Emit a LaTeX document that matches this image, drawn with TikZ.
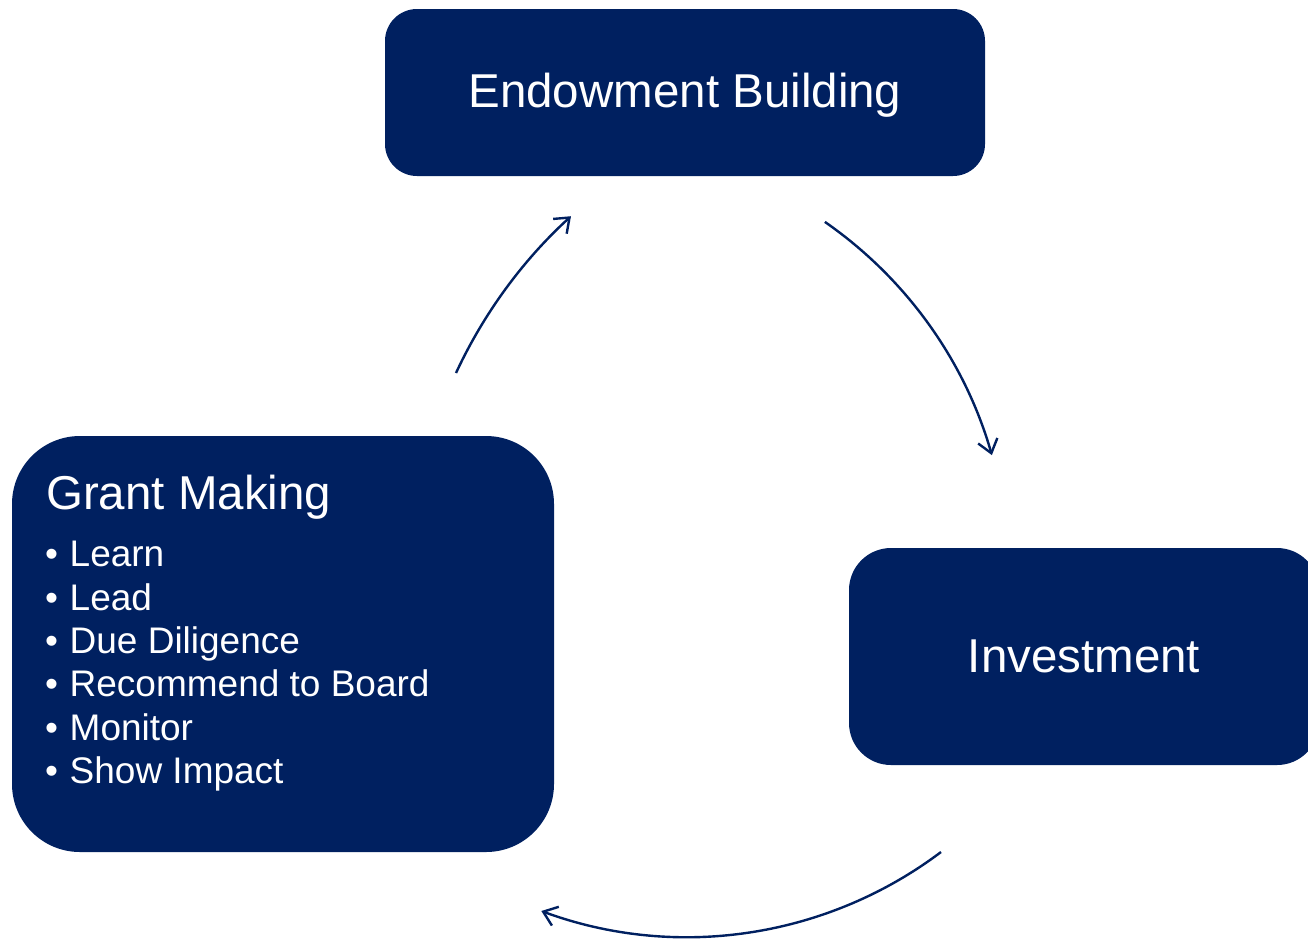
\documentclass[tikz,border=0pt]{standalone}
\usepackage{fontspec}
\setmainfont{Liberation Sans}
\usetikzlibrary{arrows.meta}
\definecolor{navy}{HTML}{002060}
\begin{document}
\begin{tikzpicture}[x=1pt,y=1pt,
  boxstyle/.style={fill=navy, draw=none, rectangle, inner sep=0pt, text=white},
  bigtext/.style={font=\fontsize{47.5}{57}\selectfont},
  itemtext/.style={text=white, inner sep=0pt, anchor=base west, font=\fontsize{37}{44}\selectfont},
  arr/.style={draw=navy, line width=2.4pt, -{Straight Barb[length=13pt,width=20pt,line width=2.4pt]}}
]
\useasboundingbox (0,0) rectangle (1308,-938);
\clip (0,0) rectangle (1308,-938);

% boxes
\node[boxstyle, bigtext, rounded corners=32pt, minimum width=600pt, minimum height=167pt, text depth=4pt] (endow) at (685,-92.5) {Endowment Building};
\node[boxstyle, bigtext, rounded corners=42pt, minimum width=470pt, minimum height=217pt] (invest) at (1084,-656.5) {Investment};
\node[boxstyle, rounded corners=68pt, minimum width=542pt, minimum height=416pt] (grant) at (283,-644) {};

% grant making text
\node[itemtext, font=\fontsize{47.5}{57}\selectfont] (gtitle) at (46,-509) {Grant Making};
\node[itemtext] (i1) at (45,-566.7) {\makebox[24.5pt][l]{•}Learn};
\node[itemtext] (i2) at (45,-610) {\makebox[24.5pt][l]{•}Lead};
\node[itemtext] (i3) at (45,-653.3) {\makebox[24.5pt][l]{•}Due Diligence};
\node[itemtext] (i4) at (45,-696.6) {\makebox[24.5pt][l]{•}Recommend to Board};
\node[itemtext] (i5) at (45,-740) {\makebox[24.5pt][l]{•}Monitor};
\node[itemtext] (i6) at (45,-783.3) {\makebox[24.5pt][l]{•}Show Impact};

% arrows
\coordinate (a1) at (824.9,-221.9);
\coordinate (a2) at (941,-852);
\coordinate (a3) at (456,-373);
\draw[arr] (a1) arc[start angle=55.2, end angle=16.0, radius=427.5];
\draw[arr] (a2) arc[start angle=-53.0, end angle=-110.2, radius=422];
\draw[arr] (a3) arc[start angle=155.1, end angle=132.4, radius=494];
\end{tikzpicture}
\end{document}
